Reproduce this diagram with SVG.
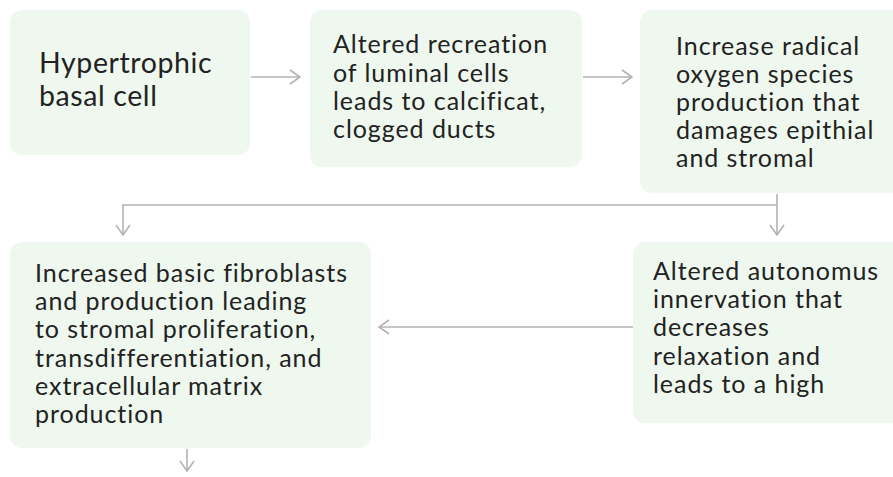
<svg xmlns="http://www.w3.org/2000/svg" width="893" height="477" viewBox="0 0 893 477">
<style>
.box{fill:#eff8ee;}
.t{font-family:Lato,"Open Sans",sans-serif;font-size:25px;letter-spacing:0.95px;fill:#222;font-variant-ligatures:no-common-ligatures;}
.big{font-size:28.5px;letter-spacing:0.6px;}
.c{fill:none;stroke:#b3b3b3;stroke-width:1.6;}
</style>
<defs>
<marker id="ah" viewBox="0 0 12 16" refX="11" refY="8" markerWidth="12" markerHeight="16" markerUnits="userSpaceOnUse" orient="auto">
<path d="M1,1 L11,8 L1,15" fill="none" stroke="#b3b3b3" stroke-width="1.6"/>
</marker>
</defs>
<rect width="893" height="477" fill="#ffffff"/>
<g id="connectors">
<path class="c" d="M251,77 H300" marker-end="url(#ah)"/>
<path class="c" d="M583,77 H632" marker-end="url(#ah)"/>
<path class="c" d="M777,205 H123 V235" marker-end="url(#ah)"/>
<path class="c" d="M777,194 V235" marker-end="url(#ah)"/>
<path class="c" d="M633,327 H379" marker-end="url(#ah)"/>
<path class="c" d="M187,449 V471" marker-end="url(#ah)"/>
</g>
<g id="n1">
<rect class="box" x="10" y="10" width="240" height="145" rx="12"/>
<text class="t big" x="39" y="73">Hypertrophic</text>
<text class="t big" x="39" y="106">basal cell</text>
</g>
<g id="n2">
<rect class="box" x="310" y="10" width="272" height="157" rx="12"/>
<text class="t" x="333" y="53">Altered recreation</text>
<text class="t" x="333" y="82">of luminal cells</text>
<text class="t" x="333" y="110">leads to calcificat,</text>
<text class="t" x="333" y="138">clogged ducts</text>
</g>
<g id="n3">
<rect class="box" x="640" y="10" width="265" height="183" rx="12"/>
<text class="t" x="676" y="55">Increase radical</text>
<text class="t" x="676" y="83">oxygen species</text>
<text class="t" x="676" y="111">production that</text>
<text class="t" x="676" y="139">damages epithial</text>
<text class="t" x="676" y="167">and stromal</text>
</g>
<g id="n4">
<rect class="box" x="10" y="242" width="361" height="206" rx="12"/>
<text class="t" x="35" y="282">Increased basic fibroblasts</text>
<text class="t" x="35" y="310">and production leading</text>
<text class="t" x="35" y="338">to stromal proliferation,</text>
<text class="t" x="35" y="367">transdifferentiation, and</text>
<text class="t" x="35" y="395">extracellular matrix</text>
<text class="t" x="35" y="423">production</text>
</g>
<g id="n5">
<rect class="box" x="633" y="242" width="272" height="181" rx="12"/>
<text class="t" x="653" y="280">Altered autonomus</text>
<text class="t" x="653" y="308">innervation that</text>
<text class="t" x="653" y="336">decreases</text>
<text class="t" x="653" y="365">relaxation and</text>
<text class="t" x="653" y="393">leads to a high</text>
</g>
</svg>
